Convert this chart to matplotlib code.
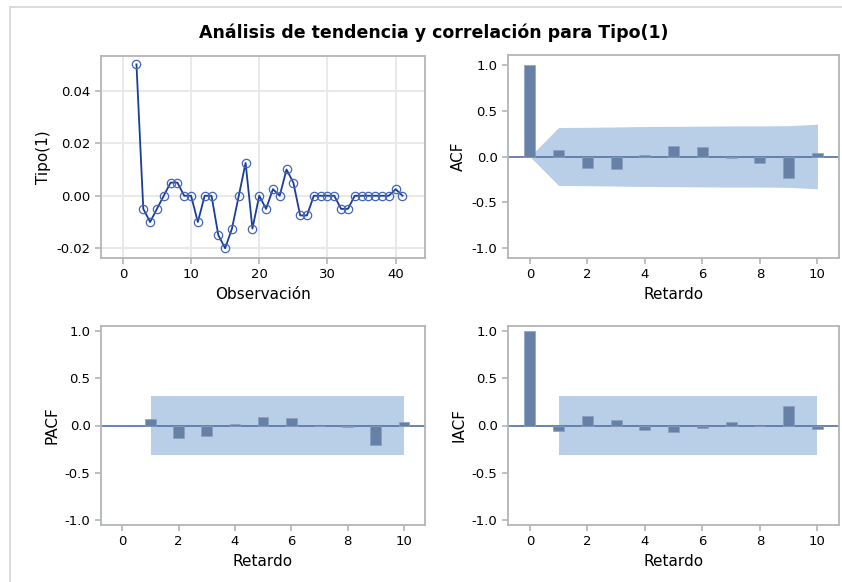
import matplotlib.pyplot as plt
from matplotlib.lines import Line2D

# serie observada
obs = list(range(2, 42))
tipo1 = [0.05, -0.005, -0.01, -0.005, 0.0, 0.005, 0.005, 0.0, 0.0, -0.01,
         0.0, 0.0, -0.015, -0.02, -0.0125, 0.0, 0.0125, -0.0125, 0.0, -0.005,
         0.0025, 0.0, 0.01, 0.005, -0.0075, -0.0075, 0.0, 0.0, 0.0, 0.0,
         -0.005, -0.005, 0.0, 0.0, 0.0, 0.0, 0.0, 0.0, 0.0025, 0.0]

lags = list(range(0, 11))
acf = [1.0, 0.07, -0.13, -0.14, 0.015, 0.11, 0.10, -0.015, -0.07, -0.23, 0.035]
acf_band = [0.0, 0.316, 0.318, 0.322, 0.327, 0.328, 0.331, 0.333, 0.333, 0.336, 0.352]

pacf_lags = list(range(1, 11))
pacf = [0.07, -0.13, -0.115, 0.02, 0.088, 0.08, 0.0, -0.02, -0.21, 0.04]
pacf_band = 0.316

iacf_lags = list(range(1, 11))
iacf_lag0 = 1.0
iacf = [-0.053, 0.095, 0.053, -0.046, -0.07, -0.028, 0.04, -0.005, 0.204, -0.032]
iacf_band = 0.316

plt.rcParams['axes.unicode_minus'] = False
plt.rcParams['font.family'] = 'DejaVu Sans'

bar_color = '#6680a6'
band_color = '#b9cee7'
zero_color = '#5c7aa8'
spine_color = '#b2b5b9'


def style_axes(ax):
    for s in ax.spines.values():
        s.set_color(spine_color)
        s.set_linewidth(1.3)
    ax.tick_params(colors=spine_color, labelcolor='black', labelsize=9.5,
                   length=4, width=1.2)


def corr_panel(ax, ylabel, ylim):
    ax.axhline(0, color=zero_color, lw=1.3, zorder=2)
    ax.set_xlim(-0.76, 10.75)
    ax.set_ylim(*ylim)
    ax.set_xticks([0, 2, 4, 6, 8, 10])
    ax.set_yticks([-1.0, -0.5, 0.0, 0.5, 1.0])
    ax.set_yticklabels(['-1.0', '-0.5', '0.0', '0.5', '1.0'])
    ax.set_xlabel('Retardo', fontsize=11)
    ax.set_ylabel(ylabel, fontsize=11)
    style_axes(ax)


fig = plt.figure(figsize=(8.42, 5.82), dpi=100)

# marco exterior
fig.add_artist(Line2D([10 / 842, 10 / 842], [0, 1 - 7 / 582], color='#d4d4d4', lw=1.2))
fig.add_artist(Line2D([10 / 842, 1], [1 - 7 / 582, 1 - 7 / 582], color='#d4d4d4', lw=1.2))

fig.text(434 / 842, 1 - 33 / 582, 'Análisis de tendencia y correlación para Tipo(1)',
         ha='center', va='center', fontsize=12.5, fontweight='bold')

# serie
ax1 = fig.add_axes([101 / 842, 1 - 258 / 582, 324 / 842, 202 / 582])
ax1.plot(obs, tipo1, color='#1a3d98', lw=1.3, marker='o', ms=6,
         mfc='none', mec='#4466b8', mew=0.9, zorder=3)
ax1.set_xlim(-3.2, 44.3)
ax1.set_ylim(-0.0237, 0.0532)
ax1.set_xticks([0, 10, 20, 30, 40])
ax1.set_yticks([-0.02, 0.0, 0.02, 0.04])
ax1.set_yticklabels(['-0.02', '0.00', '0.02', '0.04'])
ax1.grid(True, color='#e9e9e9', lw=1.5)
ax1.set_axisbelow(True)
ax1.set_xlabel('Observación', fontsize=11)
ax1.set_ylabel('Tipo(1)', fontsize=11)
style_axes(ax1)

# ACF
ax2 = fig.add_axes([508 / 842, 1 - 258 / 582, 331 / 842, 203 / 582])
ax2.fill_between(lags, [-b for b in acf_band], acf_band, color=band_color, lw=0, zorder=1)
ax2.bar(lags, acf, width=0.38, color=bar_color, edgecolor='#8aa0c2', lw=0.5, zorder=3)
corr_panel(ax2, 'ACF', (-1.106, 1.106))

# PACF
ax3 = fig.add_axes([101 / 842, 1 - 525 / 582, 324 / 842, 199 / 582])
ax3.fill_between([1, 10], [-pacf_band, -pacf_band], [pacf_band, pacf_band],
                 color=band_color, lw=0, zorder=1)
ax3.bar(pacf_lags, pacf, width=0.38, color=bar_color, edgecolor='#8aa0c2', lw=0.5, zorder=3)
corr_panel(ax3, 'PACF', (-1.05, 1.05))

# IACF
ax4 = fig.add_axes([508 / 842, 1 - 525 / 582, 331 / 842, 199 / 582])
ax4.fill_between([1, 10], [-iacf_band, -iacf_band], [iacf_band, iacf_band],
                 color=band_color, lw=0, zorder=1)
ax4.bar([0] + iacf_lags, [iacf_lag0] + iacf, width=0.38, color=bar_color,
        edgecolor='#8aa0c2', lw=0.5, zorder=3)
corr_panel(ax4, 'IACF', (-1.05, 1.05))

fig.savefig('out.png', dpi=100)
